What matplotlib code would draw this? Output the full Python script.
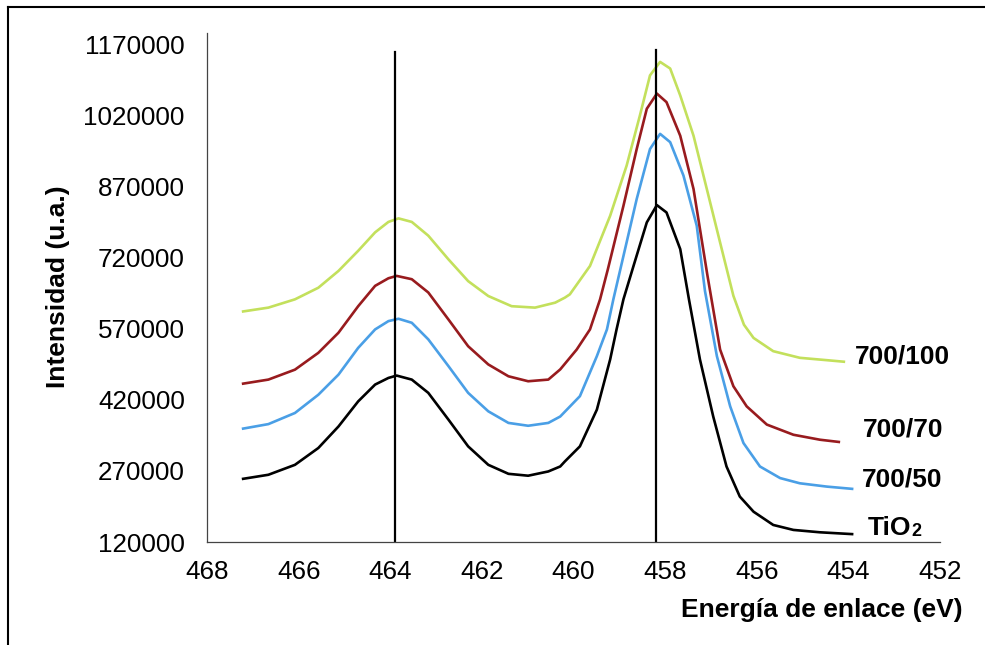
import matplotlib
matplotlib.use("Agg")
import matplotlib.pyplot as plt
from matplotlib.lines import Line2D

# ---- data ----
x_tio2 = [467.24, 466.66, 466.08, 465.57, 465.13, 464.70, 464.33, 464.04, 463.86, 463.53,
          463.17, 462.73, 462.30, 461.86, 461.42, 460.99, 460.55, 460.29, 460.19, 459.86,
          459.49, 459.20, 459.06, 458.91, 458.69, 458.40, 458.18, 457.97, 457.67, 457.48,
          457.36, 457.24, 456.95, 456.66, 456.37, 456.07, 455.64, 455.20, 454.62, 453.89]
y_tio2 = [253000, 262000, 283000, 318500, 364000, 417000, 452500, 466500, 471500, 463000,
          435000, 378500, 322000, 283000, 264000, 260000, 269000, 279500, 290000, 322000,
          399500, 505500, 569000, 632500, 703000, 795000, 831500, 816000, 738500, 632500,
          569000, 505500, 385000, 279500, 216000, 184000, 156000, 145500, 140500, 136500]

x_50 = [467.24, 466.66, 466.08, 465.57, 465.13, 464.70, 464.33, 464.04, 463.82, 463.53,
        463.17, 462.73, 462.30, 461.86, 461.42, 460.99, 460.55, 460.29, 459.86, 459.49,
        459.27, 459.13, 458.91, 458.62, 458.33, 458.11, 457.89, 457.60, 457.31, 457.13,
        456.87, 456.58, 456.29, 455.93, 455.49, 455.06, 454.47, 453.89]
y_50 = [359000, 369000, 392500, 431000, 473500, 530000, 569000, 586500, 591500, 583000,
        548000, 491500, 435000, 396000, 371500, 365500, 371500, 385000, 428000, 512500,
        569000, 632500, 724000, 844500, 950000, 982000, 964500, 894000, 788000, 650000,
        512500, 406500, 329000, 279500, 255000, 244000, 237000, 232000]

x_70 = [467.24, 466.66, 466.08, 465.57, 465.13, 464.70, 464.33, 464.04, 463.86, 463.53,
        463.17, 462.73, 462.30, 461.86, 461.42, 460.99, 460.55, 460.29, 459.93, 459.64,
        459.42, 459.25, 458.91, 458.62, 458.40, 458.18, 457.97, 457.67, 457.38, 457.08,
        456.80, 456.51, 456.22, 455.78, 455.20, 454.62, 454.18]
y_70 = [454000, 463000, 484000, 519500, 562000, 618000, 661000, 677000, 682000, 675000,
        647000, 590000, 533500, 495000, 470000, 459500, 463000, 484500, 526500, 569000,
        632500, 696000, 830000, 950000, 1035000, 1067000, 1049000, 978000, 865500, 685000,
        526500, 449000, 406500, 368000, 346500, 336000, 331000]

x_100 = [467.24, 466.66, 466.08, 465.57, 465.13, 464.70, 464.33, 464.04, 463.82, 463.53,
         463.17, 462.73, 462.30, 461.86, 461.35, 460.84, 460.40, 460.19, 460.08, 459.64,
         459.20, 458.84, 458.55, 458.33, 458.11, 457.89, 457.67, 457.38, 457.09, 456.80,
         456.51, 456.28, 456.07, 455.64, 455.06, 454.47, 454.07]
y_100 = [606500, 615000, 632500, 657000, 692500, 735000, 774000, 796000, 803500, 796000,
         767000, 717000, 671000, 639500, 618000, 615000, 625500, 636000, 643000, 703000,
         809000, 915000, 1021000, 1105500, 1134000, 1120000, 1063000, 978000, 865500, 752500,
         640000, 579000, 551000, 523000, 509000, 504000, 500500]

series_names = ["TiO", "700/50", "700/70", "700/100"]
vline_x = [463.9, 458.2]
vline_top = [1155000, 1160000]
x_ticks = [468, 466, 464, 462, 460, 458, 456, 454, 452]
y_ticks = [120000, 270000, 420000, 570000, 720000, 870000, 1020000, 1170000]

# ---- figure ----
plt.rcParams['font.family'] = ['Liberation Sans', 'DejaVu Sans']
fig = plt.figure(figsize=(9.85, 6.45), dpi=100)
ax = fig.add_axes([207/985, 1 - 542/645, (940-207)/985, (542-33)/645])

c_black = "#000000"
c_blue = "#4A9FE6"
c_red = "#981B1E"
c_green = "#C3E05C"
lw = 1.9
for xs, ys, c in [(x_tio2, y_tio2, c_black), (x_50, y_50, c_blue),
                  (x_70, y_70, c_red), (x_100, y_100, c_green)]:
    ax.plot(xs, ys, color=c, lw=lw, solid_capstyle='butt', solid_joinstyle='round')

for vx, vt in zip(vline_x, vline_top):
    ax.plot([vx, vx], [y_ticks[0], vt], color="black", lw=1.6)

ax.set_xlim(468, 452)
ax.set_ylim(120000, 1195000)
ax.set_xticks(x_ticks)
ax.set_xticklabels([str(v) for v in x_ticks])
ax.set_yticks(y_ticks)
ax.set_yticklabels([str(v) for v in y_ticks])
ax.tick_params(axis='both', length=0, labelsize=18.7, colors='black')
ax.tick_params(axis='x', pad=13)
ax.tick_params(axis='y', pad=16)
for s in ['top', 'right']:
    ax.spines[s].set_visible(False)
for s in ['left', 'bottom']:
    ax.spines[s].set_color('#444444')
    ax.spines[s].set_linewidth(0.9)

fs = 19
ax.text(453.85, 498000, series_names[3], fontsize=fs, fontweight='bold', ha='left', va='baseline')
ax.text(453.68, 342000, series_names[2], fontsize=fs, fontweight='bold', ha='left', va='baseline')
ax.text(453.70, 238000, series_names[1], fontsize=fs, fontweight='bold', ha='left', va='baseline')
t = ax.text(453.57, 135000, series_names[0], fontsize=fs, fontweight='bold', ha='left', va='baseline')
ax.annotate("2", xy=(1.0, 0.0), xycoords=t, fontsize=13, fontweight='bold', ha='left', va='bottom')

fig.text(822/985, 1 - 610/645, "Energía de enlace (eV)", fontsize=fs, fontweight='bold',
         ha='center', va='center')
fig.text(58/985, 1 - 287/645, "Intensidad (u.a.)", fontsize=fs, fontweight='bold',
         ha='center', va='center', rotation=90)

# outer frame (top and left visible)
fig.add_artist(Line2D([8/985, 1.0], [1 - 7/645, 1 - 7/645], transform=fig.transFigure,
                      color='black', lw=1.5))
fig.add_artist(Line2D([8/985, 8/985], [0.0, 1 - 7/645], transform=fig.transFigure,
                      color='black', lw=1.5))

fig.savefig("out.png", dpi=100)
